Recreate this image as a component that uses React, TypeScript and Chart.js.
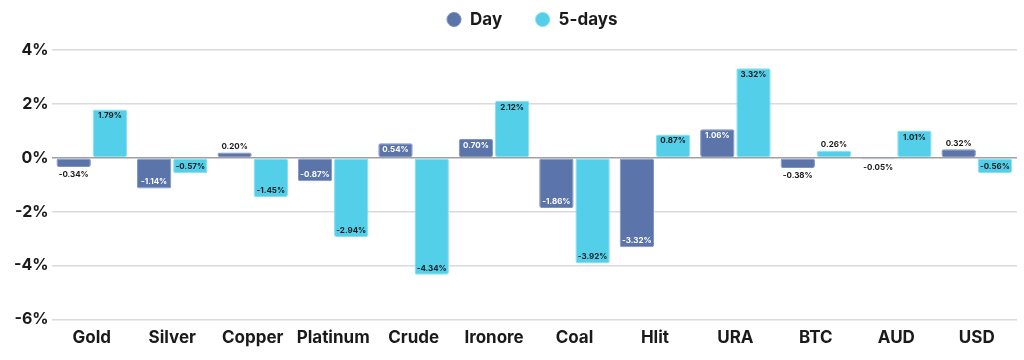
import React, { useEffect, useRef } from "react";
import { Chart, registerables } from "chart.js";

Chart.register(...registerables);

const categories = ["Gold", "Silver", "Copper", "Platinum", "Crude", "Ironore", "Coal", "Hlit", "URA", "BTC", "AUD", "USD"];
const dayValues = [-0.34, -1.14, 0.2, -0.87, 0.54, 0.7, -1.86, -3.32, 1.06, -0.38, -0.05, 0.32];
const fiveDayValues = [1.79, -0.57, -1.45, -2.94, -4.34, 2.12, -3.92, 0.87, 3.32, 0.26, 1.01, -0.56];
const seriesNames = ["Day", "5-days"];
const yMin = -6;
const yMax = 4;
const yStep = 2;

const DAY_COLOR = "#5b75ab";
const FIVE_COLOR = "#53cfe9";
const FONT = "Inter, 'Noto Sans', sans-serif";

const LEGEND_HEIGHT = 72;
const LEGEND_SHIFT = 18;

const legendFitPlugin = {
  id: "legendFit",
  beforeInit(chart: any) {
    if (chart.legend && !chart.legend.__patched) {
      const origFit = chart.legend.fit;
      chart.legend.fit = function () {
        origFit.call(this);
        this.height = LEGEND_HEIGHT;
      };
      const origDraw = chart.legend.draw;
      chart.legend.draw = function (...args: any[]) {
        this.left += LEGEND_SHIFT;
        this.right += LEGEND_SHIFT;
        origDraw.apply(this, args);
        this.left -= LEGEND_SHIFT;
        this.right -= LEGEND_SHIFT;
      };
      chart.legend.__patched = true;
    }
  },
};

const valueLabelPlugin = {
  id: "valueLabels",
  afterDatasetsDraw(chart: any) {
    const ctx = chart.ctx;
    ctx.save();
    ctx.font = `700 8px ${FONT}`;
    ctx.textAlign = "center";
    ctx.textBaseline = "middle";
    chart.data.datasets.forEach((ds: any, di: number) => {
      const meta = chart.getDatasetMeta(di);
      meta.data.forEach((el: any, i: number) => {
        const v = ds.data[i];
        const h = Math.abs(el.base - el.y);
        const text = v.toFixed(2) + "%";
        let y: number;
        let color: string;
        if (h >= 12) {
          y = v >= 0 ? el.y + 6.5 : el.y - 6.5;
          color = di === 0 ? "#ffffff" : "#1a1a1a";
        } else {
          y = v >= 0 ? el.y - 6 : el.y + 8;
          color = "#1a1a1a";
        }
        ctx.fillStyle = color;
        ctx.fillText(text, el.x, y);
      });
    });
    ctx.restore();
  },
};

export default function App() {
  const ref = useRef<HTMLCanvasElement>(null);
  useEffect(() => {
    document.body.style.margin = "0";
    const chart = new Chart(ref.current!, {
      type: "bar",
      data: {
        labels: categories,
        datasets: [
          {
            label: seriesNames[0],
            data: dayValues,
            backgroundColor: DAY_COLOR,
            borderColor: "#7d93c0",
            borderWidth: 1,
            borderRadius: 2,
            borderSkipped: false,
            categoryPercentage: 0.9,
            barPercentage: 0.95,
          },
          {
            label: seriesNames[1],
            data: fiveDayValues,
            backgroundColor: FIVE_COLOR,
            borderColor: "#86e0f2",
            borderWidth: 1,
            borderRadius: 2,
            borderSkipped: false,
            categoryPercentage: 0.9,
            barPercentage: 0.95,
          },
        ],
      },
      options: {
        responsive: false,
        animation: false,
        layout: { padding: { top: -22, right: 7, left: 11, bottom: 12 } },
        plugins: {
          tooltip: { enabled: false },
          legend: {
            position: "top",
            labels: {
              usePointStyle: true,
              pointStyle: "circle",
              boxWidth: 15,
              boxHeight: 10,
              padding: 33,
              color: "#1a1a1a",
              font: { family: FONT, size: 17, weight: "bold" },
            },
          },
        },
        scales: {
          x: {
            grid: { display: false },
            border: { display: false },
            ticks: {
              color: "#1a1a1a",
              padding: 0,
              font: { family: FONT, size: 17, weight: "bold" },
            },
          },
          y: {
            min: yMin,
            max: yMax,
            border: { display: false },
            grid: {
              color: (c: any) => (c.tick && c.tick.value === 0 ? "#a0a0a0" : "#dadada"),
              lineWidth: 1.5,
              drawTicks: false,
            },
            ticks: {
              stepSize: yStep,
              padding: 3,
              color: "#1a1a1a",
              font: { family: FONT, size: 16, weight: "bold" },
              callback: (v: any) => `${v}%`,
            },
          },
        },
      },
      plugins: [legendFitPlugin, valueLabelPlugin],
    });
    return () => chart.destroy();
  }, []);
  return (
    <div style={{ width: 1024, height: 360 }}>
      <canvas ref={ref} width={1024} height={360} style={{ display: "block" }} />
    </div>
  );
}
